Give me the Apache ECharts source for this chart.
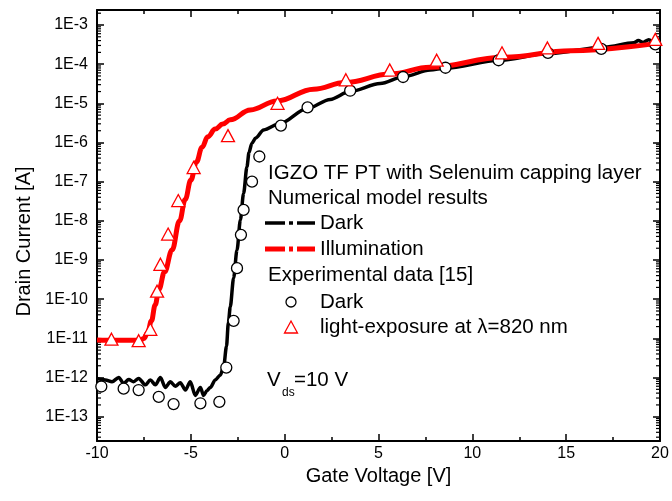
<!DOCTYPE html>
<html><head><meta charset="utf-8">
<script src="https://cdn.jsdelivr.net/npm/echarts@6/dist/echarts.min.js"></script>
<style>html,body{margin:0;padding:0;background:#fff}#c{width:672px;height:501px}</style>
</head><body><div id="c"></div>
<script>
// ---- data (gate voltage in V, drain current in A) ----
const modelDarkV = [-10,-9.55,-9.2,-8.84,-8.58,-8.31,-8.05,-7.78,-7.42,-7.16,-6.89,-6.62,-6.36,-6.09,-5.83,-5.56,-5.29,-5.03,-4.76,-4.49,-4.32,-4.14,-3.96,-3.70,-3.43,-3.25,-3.10,-3.0,-2.9,-2.72,-2.54,-2.36,-2.19,-2.01,-1.90,-1.75,-1.55,-1.12,-0.23,1.19,2.43,3.46,5.09,6.33,7.75,8.56,11.42,14.03,17.06,18.6,18.85,19.1,19.4,19.7,20];
const modelDarkI = [9.5e-13,8.7e-13,7.8e-13,1.0e-12,7.1e-13,8.9e-13,7.8e-13,9.5e-13,6.5e-13,8.7e-13,6.5e-13,1.0e-12,5.6e-13,7.8e-13,6.0e-13,7.4e-13,4.8e-13,7.8e-13,3.5e-13,5.6e-13,3.5e-13,4.6e-13,5.6e-13,8.7e-13,1.15e-12,1.9e-12,6.3e-12,2.5e-11,6.3e-11,3.5e-10,1.8e-9,1.05e-8,5.0e-8,2.4e-7,5.6e-7,9.5e-7,1.3e-6,2.1e-6,3.1e-6,7.4e-6,1.26e-5,2.0e-5,3.2e-5,4.8e-5,7.1e-5,7.9e-5,1.26e-4,1.86e-4,2.75e-4,3.5e-4,4.0e-4,3.6e-4,4.2e-4,3.6e-4,3.9e-4];
const modelIllumV = [-10,-9,-8,-7.7,-7.5,-7.3,-7.1,-6.9,-6.7,-6.4,-6.0,-5.6,-5.3,-5.0,-4.7,-4.4,-4.1,-3.7,-3.3,-2.9,-1.83,-0.41,1.54,3.23,5.62,7.75,11.69,15.26,20];
const modelIllumI = [9.1e-12,8.9e-12,8.9e-12,8.9e-12,1.0e-11,1.4e-11,2.8e-11,7.1e-11,1.8e-10,5.0e-10,1.8e-9,1.0e-8,3.5e-8,1.1e-7,3.2e-7,7.6e-7,1.4e-6,2.2e-6,2.95e-6,3.8e-6,6.8e-6,1.15e-5,2.3e-5,3.4e-5,5.6e-5,8.3e-5,1.5e-4,2.2e-4,3.5e-4];
const expDarkV = [-9.77,-8.58,-7.78,-6.71,-5.92,-4.49,-3.48,-3.11,-2.72,-2.54,-2.33,-2.19,-1.74,-1.35,-0.2,1.22,3.49,6.31,8.57,11.4,14.03,16.87,19.75];
const expDarkI = [5.9e-13,5.2e-13,4.8e-13,3.2e-13,2.1e-13,2.2e-13,2.4e-13,1.8e-12,2.8e-11,6.2e-10,4.4e-9,1.9e-8,1.0e-7,4.4e-7,2.7e-6,7.9e-6,2.1e-5,4.7e-5,8.1e-5,1.26e-4,1.95e-4,2.45e-4,3.2e-4];
const expLightV = [-9.23,-7.78,-7.16,-6.8,-6.62,-6.21,-5.67,-4.85,-3.02,-0.38,3.26,5.6,8.1,11.58,14.0,16.7,19.75];
const expLightI = [9.5e-12,8.7e-12,1.7e-11,1.6e-10,7.8e-10,4.6e-9,3.3e-8,2.3e-7,1.5e-6,1.0e-5,4.0e-5,7.1e-5,1.26e-4,1.95e-4,2.6e-4,3.4e-4,4.3e-4];
const yTickLabels = ['1E-13','1E-12','1E-11','1E-10','1E-9','1E-8','1E-7','1E-6','1E-5','1E-4','1E-3'];
const yTickExponents = [-13,-12,-11,-10,-9,-8,-7,-6,-5,-4,-3];
const minorTickFactors = [2,3,4,5,6,7,8,9];
const xMin = -10, xMax = 20, xStep = 5;
const yMinExp = -13.62, yMaxExp = -2.617;

const FONT = '"Liberation Sans", Arial, Helvetica, sans-serif';
const toPairs = (V, I) => V.map((v, i) => [v, Math.log10(I[i])]);

const minorData = [];
yTickExponents.concat([-14]).forEach(n => minorTickFactors.forEach(k => {
  const e = n + Math.log10(k);
  if (e > yMinExp && e < yMaxExp) minorData.push([xMin, e]);
}));

const chart = echarts.init(document.getElementById('c'), null, {renderer: 'canvas'});
const axisLine = {show: true, onZero: false, lineStyle: {color: '#000', width: 2}};
const yLabelFmt = v => {
  const i = yTickExponents.findIndex(e => Math.abs(e - v) < 1e-6);
  return i >= 0 ? yTickLabels[i] : '';
};

const legendRowsX = 268, sampleX1 = 265, sampleX2 = 315, entryX = 320;
const LF = 20.5;
function textEl(t, x, y, size) {
  return {type: 'text', x: x, y: y, z: 100, style: {text: t, font: size + 'px ' + FONT, fill: '#000', verticalAlign: 'middle', align: 'left'}};
}
function dashDot(y, color, w) {
  return [
    {type: 'line', z: 100, shape: {x1: sampleX1, y1: y, x2: 285, y2: y}, style: {stroke: color, lineWidth: w}},
    {type: 'line', z: 100, shape: {x1: 289, y1: y, x2: 293, y2: y}, style: {stroke: color, lineWidth: w}},
    {type: 'line', z: 100, shape: {x1: 297, y1: y, x2: sampleX2, y2: y}, style: {stroke: color, lineWidth: w}}
  ];
}

const option = {
  animation: false,
  backgroundColor: '#fff',
  grid: {left: 97, right: 12, top: 10, bottom: 60, containLabel: false},
  xAxis: [{
    type: 'value', min: xMin, max: xMax, interval: xStep, position: 'bottom',
    axisLine: axisLine,
    axisTick: {show: true, inside: true, length: 7, lineStyle: {color: '#000', width: 1.5}},
    minorTick: {show: true, splitNumber: 2, length: 4, lineStyle: {color: '#000', width: 1.5}},
    axisLabel: {color: '#000', fontSize: 16, fontFamily: FONT, margin: 5},
    splitLine: {show: false},
    name: 'Gate Voltage [V]', nameLocation: 'middle', nameGap: 25,
    nameTextStyle: {color: '#000', fontSize: 20, fontFamily: FONT}
  }, {
    type: 'value', min: xMin, max: xMax, interval: xStep, position: 'top',
    axisLine: axisLine,
    axisTick: {show: true, inside: true, length: 7, lineStyle: {color: '#000', width: 1.5}},
    minorTick: {show: true, splitNumber: 2, length: 4, lineStyle: {color: '#000', width: 1.5}},
    axisLabel: {show: false}, splitLine: {show: false}
  }],
  yAxis: [{
    type: 'value', min: yMinExp, max: yMaxExp, splitNumber: 11, position: 'left',
    axisLine: axisLine,
    axisTick: {show: true, inside: true, length: 7, lineStyle: {color: '#000', width: 1.5}},
    axisLabel: {color: '#000', fontSize: 16, fontFamily: FONT, margin: 9, formatter: yLabelFmt, showMinLabel: false, showMaxLabel: false},
    splitLine: {show: false},
    name: 'Drain Current [A]', nameLocation: 'middle', nameGap: 62,
    nameTextStyle: {color: '#000', fontSize: 20, fontFamily: FONT, padding: [0, 32, 0, 0]}
  }, {
    type: 'value', min: yMinExp, max: yMaxExp, splitNumber: 11, position: 'right',
    axisLine: axisLine,
    axisTick: {show: true, inside: true, length: 7, lineStyle: {color: '#000', width: 1.5}},
    axisLabel: {show: false}, splitLine: {show: false}
  }],
  series: [
    {
      name: 'minor', type: 'custom', silent: true, z: 1, clip: false,
      data: minorData, encode: {x: 0, y: 1},
      renderItem: (params, api) => {
        const y = api.coord([xMin, api.value(1)])[1];
        const cs = params.coordSys;
        return {type: 'group', children: [
          {type: 'line', shape: {x1: cs.x, y1: y, x2: cs.x + 4, y2: y}, style: {stroke: '#000', lineWidth: 1.2}},
          {type: 'line', shape: {x1: cs.x + cs.width, y1: y, x2: cs.x + cs.width - 4, y2: y}, style: {stroke: '#000', lineWidth: 1.2}}
        ]};
      }
    },
    {
      name: 'Dark model', type: 'line', data: toPairs(modelDarkV, modelDarkI),
      showSymbol: false, smooth: 0.3, smoothMonotone: 'x', z: 2,
      lineStyle: {color: '#000', width: 3.5}
    },
    {
      name: 'Illumination model', type: 'line', data: toPairs(modelIllumV, modelIllumI),
      showSymbol: false, smooth: 0.4, smoothMonotone: 'x', z: 3,
      lineStyle: {color: '#ff0000', width: 5}
    },
    {
      name: 'Dark exp', type: 'scatter', data: toPairs(expDarkV, expDarkI), z: 4,
      symbol: 'circle', symbolSize: 11,
      itemStyle: {color: '#fff', opacity: 1, borderColor: '#000', borderWidth: 1.3}
    },
    {
      name: 'Light exp', type: 'scatter', data: toPairs(expLightV, expLightI), z: 5,
      symbol: 'triangle', symbolSize: [13, 12],
      itemStyle: {color: '#fff', opacity: 1, borderColor: '#ff0000', borderWidth: 1.3}
    }
  ],
  graphic: [
    textEl('IGZO TF PT with Selenuim capping layer', legendRowsX, 173, LF),
    textEl('Numerical model results', legendRowsX, 198, LF),
    ...dashDot(223, '#000', 3.5),
    textEl('Dark', entryX, 223, LF),
    ...dashDot(249, '#ff0000', 5),
    textEl('Illumination', entryX, 249, LF),
    textEl('Experimental data [15]', legendRowsX, 275, LF),
    {type: 'circle', z: 100, shape: {cx: 291, cy: 302, r: 5}, style: {fill: '#fff', stroke: '#000', lineWidth: 1.3}},
    textEl('Dark', entryX, 302, LF),
    {type: 'polygon', z: 100, shape: {points: [[291, 321], [297.5, 333], [284.5, 333]]}, style: {fill: '#fff', stroke: '#ff0000', lineWidth: 1.3}},
    textEl('light-exposure at \u03bb=820 nm', entryX, 327, LF),
    textEl('V', 267, 380, LF),
    textEl('ds', 282, 393, 12),
    textEl('=10 V', 294, 380, LF)
  ]
};
chart.setOption(option);
</script></body></html>
